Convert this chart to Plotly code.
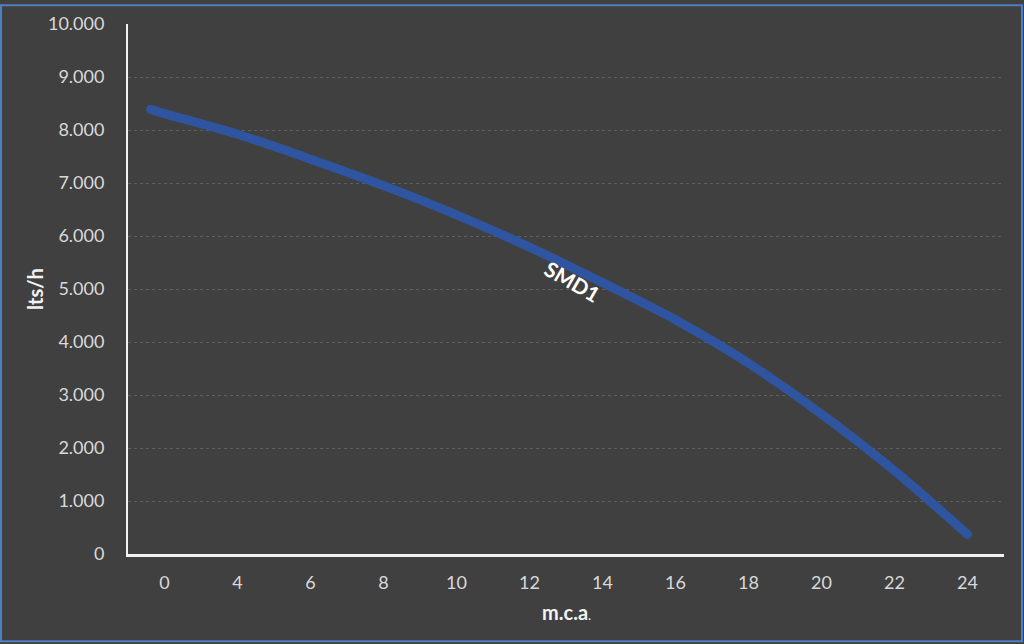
import plotly.graph_objects as go

# Category labels on the x axis (m.c.a.)
x_labels = ["0", "4", "6", "8", "10", "12", "14", "16", "18", "20", "22", "24"]
# Curve positions (in category index units) and flow values (lts/h)
curve_pos = [-0.19, 0, 1, 2, 3, 4, 5, 6, 7, 8, 9, 10, 11]
curve_flow = [8390, 8310, 7920, 7450, 6950, 6400, 5790, 5120, 4420, 3600, 2640, 1570, 370]
y_ticks = [0, 1000, 2000, 3000, 4000, 5000, 6000, 7000, 8000, 9000, 10000]

W, H = 1024, 644
L, R, T, B = 128, 20, 20, 90
pw, ph = W - L - R, H - T - B

FONT = "Lato, Open Sans, Liberation Sans, sans-serif"

fig = go.Figure()
fig.add_trace(go.Scatter(
    x=curve_pos, y=curve_flow, mode="lines",
    line=dict(color="#2F55A0", width=9, shape="spline", smoothing=0.8),
    hoverinfo="skip", showlegend=False,
))

tick_font = dict(family=FONT, size=18, color="#D9D9D9")

fig.update_layout(
    width=W, height=H,
    margin=dict(l=L, r=R, t=T, b=B),
    paper_bgcolor="#404040", plot_bgcolor="#404040",
    separators=",.",
    showlegend=False,
    xaxis=dict(
        range=[-0.5, 11.5], tickmode="array",
        tickvals=list(range(len(x_labels))), ticktext=x_labels,
        showgrid=False, zeroline=False,
        showline=True, linecolor="#F2F2F2", linewidth=3,
        ticks="", tickfont=tick_font, ticklabelstandoff=10,
        fixedrange=True,
    ),
    yaxis=dict(
        range=[0, 10000], tickmode="array", tickvals=y_ticks,
        tickformat=",d",
        showgrid=True, gridcolor="#5E5E5E", griddash="dot", gridwidth=1,
        zeroline=False,
        showline=True, linecolor="#F2F2F2", linewidth=2,
        ticks="", tickfont=tick_font, ticklabelstandoff=18,
        fixedrange=True,
    ),
    annotations=[
        dict(text="<b>lts/h</b>", xref="paper", yref="paper",
             x=(35 - L) / pw, y=(H - B - 287) / ph, textangle=-90,
             showarrow=False, xanchor="center", yanchor="middle",
             font=dict(family=FONT, size=20, color="#F2F2F2")),
        dict(text="<b>m.c.a</b><span style='font-size:13px'>.</span>", xref="paper", yref="paper",
             x=(566 - L) / pw, y=(H - B - 612) / ph,
             showarrow=False, xanchor="center", yanchor="middle",
             font=dict(family=FONT, size=20, color="#F2F2F2")),
        dict(text="<b>SMD1</b>", xref="x", yref="y",
             x=5.6, y=5150, textangle=30,
             showarrow=False, xanchor="center", yanchor="middle",
             font=dict(family=FONT, size=21, color="#FFFFFF")),
    ],
    shapes=[
        dict(type="rect", xref="paper", yref="paper",
             x0=(1 - L) / pw, x1=(1022 - L) / pw,
             y0=(H - B - 642) / ph, y1=(H - B - 1) / ph,
             line=dict(color="#4F7FBF", width=2), fillcolor="rgba(0,0,0,0)", layer="above"),
    ],
)

fig.write_html(
    "out.html",
    config={"displayModeBar": False, "staticPlot": True},
    post_script=(
        "document.body.style.margin='0';document.body.style.overflow='hidden';"
        "document.querySelectorAll('.js-line').forEach(function(e){"
        "e.style.strokeLinecap='round';e.style.strokeLinejoin='round';});"
    ),
)
